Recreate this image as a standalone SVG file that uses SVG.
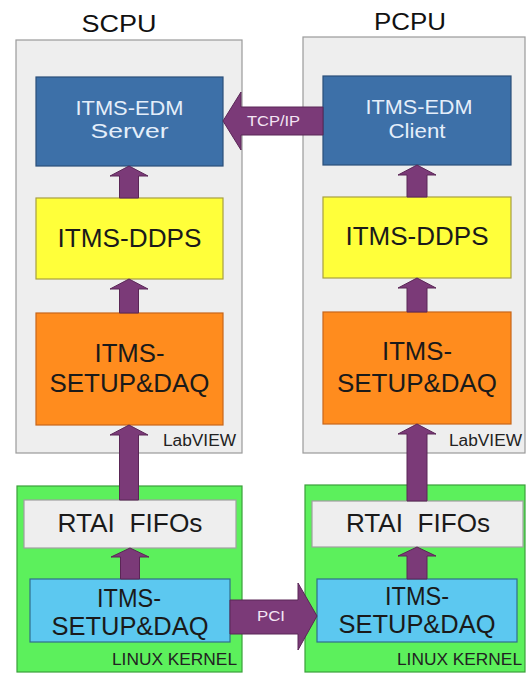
<svg xmlns="http://www.w3.org/2000/svg" width="527" height="674" viewBox="0 0 527 674">
<style>
text{font-family:"Liberation Sans",Arial,sans-serif;text-anchor:middle}
.title{font-size:24px;fill:#111}
.cpu{fill:#eeeeee;stroke:#9a9a9a;stroke-width:1.2}
.kern{fill:#5cf05c;stroke:#3aa03a;stroke-width:1.2}
.edm{fill:#3d70a8;stroke:#2a4f7a;stroke-width:1.2}
.edmt{font-size:21px;fill:#e4eefa}
.ddps{fill:#ffff3a;stroke:#a8a040;stroke-width:1.2}
.setup{fill:#ff8c1e;stroke:#c8661a;stroke-width:1.2}
.fifo{fill:#eeeeee;stroke:#a0a0a0;stroke-width:1.2}
.drv{fill:#5cc8f0;stroke:#2f6f8a;stroke-width:1.2}
.big{font-size:25px;fill:#1a1a1a}
.small{font-size:16px;fill:#222;text-anchor:end}
.arr{fill:#7b3a78;stroke:#5a2656;stroke-width:1}
.arrt{font-size:15px;fill:#f4e6f4}
</style>
<g id="scpu">
<text class="title" x="119" y="32" textLength="75" lengthAdjust="spacingAndGlyphs">SCPU</text>
<rect class="cpu" x="16" y="40" width="226" height="413"/>
<text class="small" x="236" y="446" textLength="73" lengthAdjust="spacingAndGlyphs">LabVIEW</text>
</g>
<g id="pcpu">
<text class="title" x="410" y="30" textLength="72" lengthAdjust="spacingAndGlyphs">PCPU</text>
<rect class="cpu" x="303" y="37" width="222" height="416"/>
<text class="small" x="522" y="446" textLength="73" lengthAdjust="spacingAndGlyphs">LabVIEW</text>
</g>
<g id="kernel-left">
<rect class="kern" x="17" y="486" width="225" height="186"/>
<text class="small" x="237" y="665" textLength="125" lengthAdjust="spacingAndGlyphs">LINUX KERNEL</text>
</g>
<g id="kernel-right">
<rect class="kern" x="305" y="485" width="220" height="187"/>
<text class="small" x="522" y="665" textLength="125" lengthAdjust="spacingAndGlyphs">LINUX KERNEL</text>
</g>
<g id="edm-server">
<rect class="edm" x="36" y="77" width="187" height="89"/>
<text class="edmt" x="129.5" y="115" textLength="108" lengthAdjust="spacingAndGlyphs">ITMS-EDM</text>
<text class="edmt" x="129.5" y="138" textLength="78" lengthAdjust="spacingAndGlyphs">Server</text>
</g>
<g id="edm-client">
<rect class="edm" x="323" y="76" width="188" height="89"/>
<text class="edmt" x="419" y="114" textLength="107" lengthAdjust="spacingAndGlyphs">ITMS-EDM</text>
<text class="edmt" x="417" y="138" textLength="57" lengthAdjust="spacingAndGlyphs">Client</text>
</g>
<g id="ddps-left">
<rect class="ddps" x="36" y="198" width="187" height="81"/>
<text class="big" x="129.5" y="247" textLength="144" lengthAdjust="spacingAndGlyphs">ITMS-DDPS</text>
</g>
<g id="ddps-right">
<rect class="ddps" x="323" y="197" width="188" height="81"/>
<text class="big" x="417" y="245" textLength="143" lengthAdjust="spacingAndGlyphs">ITMS-DDPS</text>
</g>
<g id="setup-left">
<rect class="setup" x="36" y="313" width="187" height="112"/>
<text class="big" x="129.5" y="362" textLength="70" lengthAdjust="spacingAndGlyphs">ITMS-</text>
<text class="big" x="129.5" y="392" textLength="160" lengthAdjust="spacingAndGlyphs">SETUP&amp;DAQ</text>
</g>
<g id="setup-right">
<rect class="setup" x="323" y="312" width="188" height="112"/>
<text class="big" x="417" y="360" textLength="70" lengthAdjust="spacingAndGlyphs">ITMS-</text>
<text class="big" x="417" y="392" textLength="160" lengthAdjust="spacingAndGlyphs">SETUP&amp;DAQ</text>
</g>
<g id="fifo-left">
<rect class="fifo" x="24" y="500" width="212" height="48"/>
<text class="big" x="130" y="532" xml:space="preserve" textLength="145" lengthAdjust="spacingAndGlyphs">RTAI  FIFOs</text>
</g>
<g id="fifo-right">
<rect class="fifo" x="312" y="501" width="211" height="46"/>
<text class="big" x="418" y="532" xml:space="preserve" textLength="144" lengthAdjust="spacingAndGlyphs">RTAI  FIFOs</text>
</g>
<g id="drv-left">
<rect class="drv" x="30" y="579" width="200" height="63"/>
<text class="big" x="129" y="607" textLength="64" lengthAdjust="spacingAndGlyphs">ITMS-</text>
<text class="big" x="130" y="635" textLength="157" lengthAdjust="spacingAndGlyphs">SETUP&amp;DAQ</text>
</g>
<g id="drv-right">
<rect class="drv" x="317" y="579" width="200" height="63"/>
<text class="big" x="417" y="605" textLength="64" lengthAdjust="spacingAndGlyphs">ITMS-</text>
<text class="big" x="417" y="633" textLength="157" lengthAdjust="spacingAndGlyphs">SETUP&amp;DAQ</text>
</g>
<g id="connectors">
<polygon class="arr" points="129,166 148,176 138.5,176 138.5,198 119.5,198 119.5,176 110,176"/>
<polygon class="arr" points="129,279 148,289 138.5,289 138.5,313 119.5,313 119.5,289 110,289"/>
<polygon class="arr" points="129,425 148,435 138.5,435 138.5,500 119.5,500 119.5,435 110,435"/>
<polygon class="arr" points="130,548 149,557 139.5,557 139.5,579 120.5,579 120.5,557 111,557"/>
<polygon class="arr" points="417,165 436,175 427,175 427,197 407,197 407,175 398,175"/>
<polygon class="arr" points="417,278 436,288 427,288 427,312 407,312 407,288 398,288"/>
<polygon class="arr" points="417,424 436,434 427,434 427,501 407,501 407,434 398,434"/>
<polygon class="arr" points="417,547 436,556 427,556 427,579 407,579 407,556 398,556"/>
<polygon class="arr" points="223,121 241,92 241,107 323,107 323,135 241,135 241,150"/>
<text class="arrt" x="273.5" y="126" textLength="53" lengthAdjust="spacingAndGlyphs">TCP/IP</text>
<polygon class="arr" points="317,616 298,583 298,600 230,600 230,634 298,634 298,650"/>
<text class="arrt" x="271" y="621" textLength="28" lengthAdjust="spacingAndGlyphs">PCI</text>
</g>
</svg>
